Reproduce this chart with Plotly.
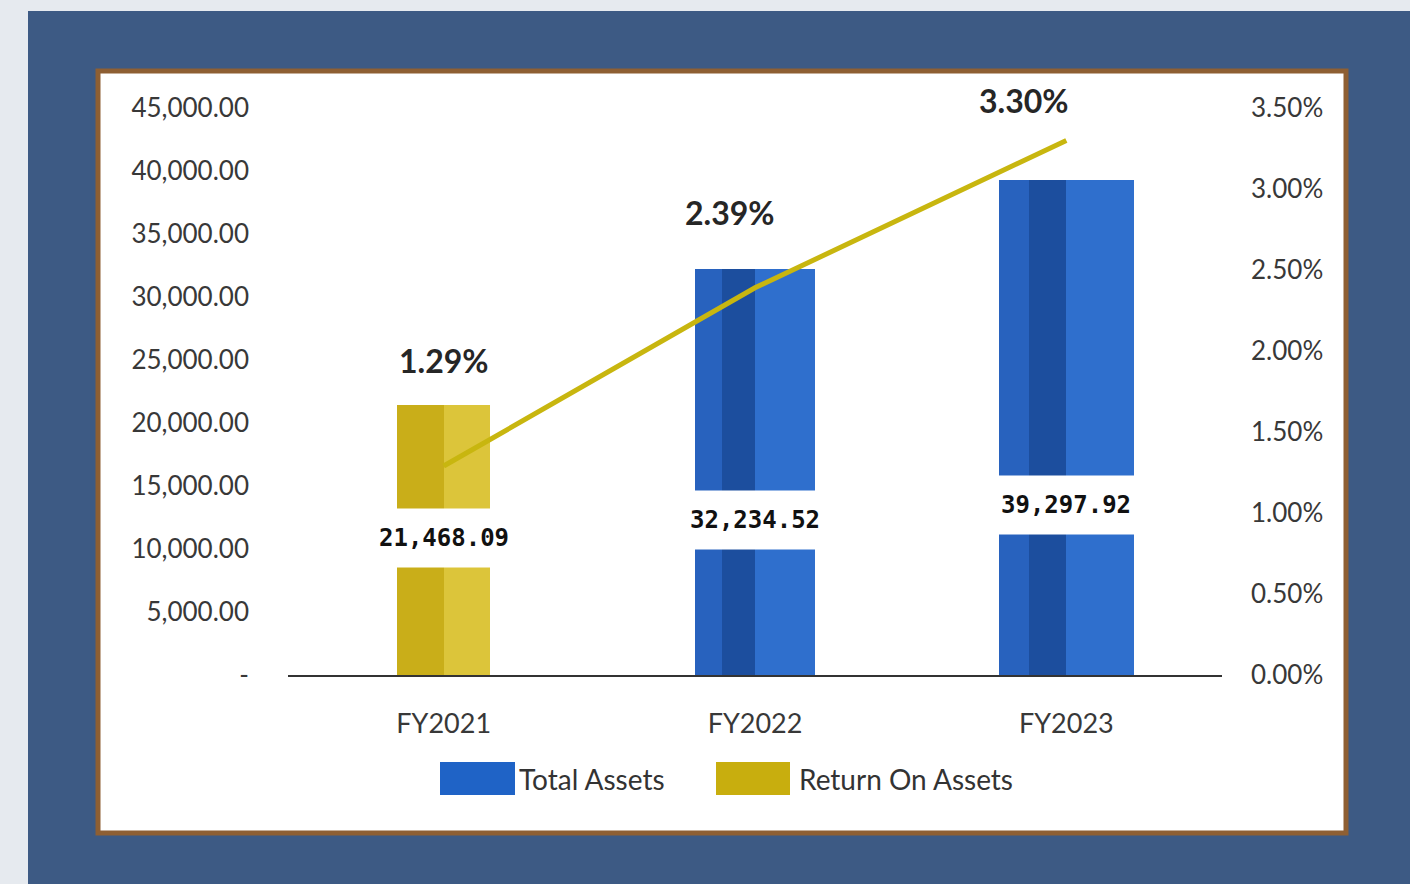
import plotly.graph_objects as go

# ---- data ----
categories = ["FY2021", "FY2022", "FY2023"]
total_assets = [21468.09, 32234.52, 39297.92]
return_on_assets = [0.0129, 0.0239, 0.0330]
left_tickvals = [0, 5000, 10000, 15000, 20000, 25000, 30000, 35000, 40000, 45000]
left_ticktext = ["-", "5,000.00", "10,000.00", "15,000.00", "20,000.00", "25,000.00",
                 "30,000.00", "35,000.00", "40,000.00", "45,000.00"]
right_tickvals = [0, 0.005, 0.01, 0.015, 0.02, 0.025, 0.03, 0.035]

# ---- styles ----
BAR_W = [0.30, 0.386, 0.434]
FRONT_COL = ["#DCC53A", "#2F6FCD", "#2F6FCD"]
LEFT_COL = ["#C9AE19", "#2862BE", "#2862BE"]
STRIPE_COL = ["#C9AE19", "#1C4E9E", "#1C4E9E"]
VAL_LABEL_Y = [10870, 12300, 13490]
PCT_XSHIFT = [0, -25, -42]
PCT_YSHIFT = [106, 75, 40]
LINE_COL = "#C8B60F"
TICK_FONT = dict(family="Lato", size=26, color="#383838")

fig = go.Figure()

# front (light) face
fig.add_trace(go.Bar(x=categories, y=total_assets, width=BAR_W,
                     marker=dict(color=FRONT_COL, line=dict(width=0)),
                     showlegend=False, hoverinfo="skip"))
# left face
fig.add_trace(go.Bar(x=categories, y=total_assets,
                     width=[w / 2 for w in BAR_W], offset=[-w / 2 for w in BAR_W],
                     marker=dict(color=LEFT_COL, line=dict(width=0)),
                     showlegend=False, hoverinfo="skip"))
# dark stripe near the edge
fig.add_trace(go.Bar(x=categories, y=total_assets,
                     width=[w * 0.275 for w in BAR_W], offset=[-w * 0.275 for w in BAR_W],
                     marker=dict(color=STRIPE_COL, line=dict(width=0)),
                     name="Total Assets", showlegend=False))

# return on assets line
fig.add_trace(go.Scatter(x=categories, y=return_on_assets, yaxis="y2",
                         mode="lines", line=dict(color=LINE_COL, width=5),
                         name="Return On Assets", showlegend=False, cliponaxis=False))

annotations = []
for c, v, ly in zip(categories, total_assets, VAL_LABEL_Y):
    annotations.append(dict(x=c, y=ly, xref="x", yref="y", text=f"{v:,.2f}",
                            showarrow=False, bgcolor="white", borderpad=15,
                            font=dict(family="DejaVu Sans Mono", size=24, color="#111111",
                                      weight="bold")))
for c, r, xs, ys in zip(categories, return_on_assets, PCT_XSHIFT, PCT_YSHIFT):
    annotations.append(dict(x=c, y=r, xref="x", yref="y2", text=f"{r:.2%}",
                            showarrow=False, xshift=xs, yshift=ys,
                            font=dict(family="Lato", size=32, color="#262626", weight="bold")))


def px_x(px):
    return (px - 288) / 934.0


def px_y(py):
    return (675 - py) / 567.0


shapes = [
    # denim background
    dict(type="rect", xref="paper", yref="paper", x0=px_x(28), x1=px_x(1412),
         y0=px_y(886), y1=px_y(11), fillcolor="#3D5A84", line=dict(width=0), layer="below"),
    # white panel with brown border
    dict(type="rect", xref="paper", yref="paper", x0=px_x(98), x1=px_x(1346),
         y0=px_y(833), y1=px_y(71), fillcolor="white",
         line=dict(color="#8E5F33", width=5), layer="below"),
    # legend swatches
    dict(type="rect", xref="paper", yref="paper", x0=px_x(440), x1=px_x(515),
         y0=px_y(795), y1=px_y(762), fillcolor="#1F63C6", line=dict(width=0)),
    dict(type="rect", xref="paper", yref="paper", x0=px_x(716), x1=px_x(790),
         y0=px_y(795), y1=px_y(762), fillcolor="#C8AE0E", line=dict(width=0)),
]
annotations.append(dict(x=px_x(517), y=px_y(779), xref="paper", yref="paper",
                        text="Total Assets", showarrow=False, xanchor="left", yanchor="middle",
                        font=dict(family="Lato", size=28, color="#333333")))
annotations.append(dict(x=px_x(797), y=px_y(779), xref="paper", yref="paper",
                        text="Return On Assets", showarrow=False, xanchor="left", yanchor="middle",
                        font=dict(family="Lato", size=28, color="#333333")))

fig.update_layout(
    width=1410, height=884,
    margin=dict(l=288, r=188, t=108, b=209),
    paper_bgcolor="#E6EAEF",
    plot_bgcolor="rgba(0,0,0,0)",
    barmode="overlay",
    bargap=0,
    showlegend=False,
    shapes=shapes,
    annotations=annotations,
    xaxis=dict(showgrid=False, zeroline=False, showline=True, linecolor="#333333",
               linewidth=2, tickfont=dict(family="Lato", size=27, color="#383838"),
               ticklabelstandoff=24, ticks=""),
    yaxis=dict(range=[0, 45000], tickvals=left_tickvals, ticktext=left_ticktext,
               showgrid=False, zeroline=False, showline=False, tickfont=TICK_FONT,
               ticklabelstandoff=38),
    yaxis2=dict(range=[0, 0.035], tickvals=right_tickvals, tickformat=".2%",
                overlaying="y", side="right", showgrid=False, zeroline=False,
                showline=False, tickfont=TICK_FONT, ticklabelstandoff=28),
)

fig.write_html("out.html", config={"displayModeBar": False},
               post_script="document.body.style.margin='0';document.body.style.overflow='hidden';")
